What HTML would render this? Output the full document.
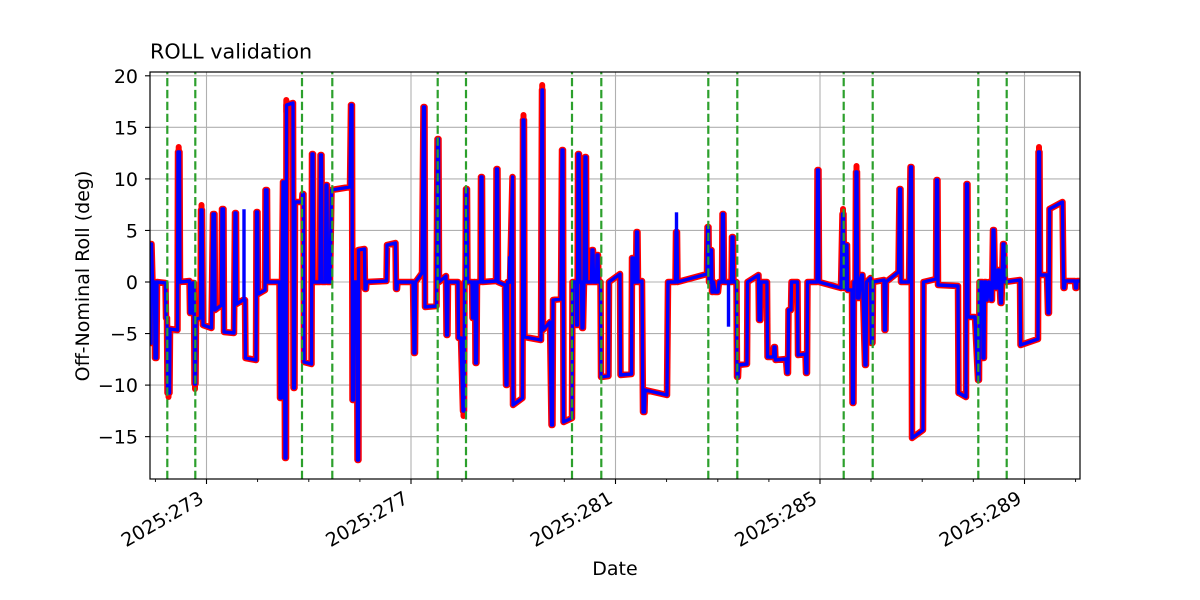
<!DOCTYPE html>
<html>
<head>
<meta charset="utf-8">
<style>
html,body{margin:0;padding:0;background:#fff;}
svg{display:block;}
text{font-family:"DejaVu Sans","Liberation Sans",sans-serif;fill:#000;}
</style>
</head>
<body>
<svg width="1200" height="600" viewBox="0 0 1200 600" xmlns="http://www.w3.org/2000/svg">
<rect x="0" y="0" width="1200" height="600" fill="#fff"/>
<defs>
<clipPath id="ax"><rect x="150" y="72" width="930" height="407"/></clipPath>
<path id="d" d="M151,343 L151.5,244 L152.5,282 L154.5,282 L155,358 L156.5,358 L157,282 L165.5,283 L166,318 L167,318 L167.5,393 L169.5,393 L170,329 L177.5,330 L178,152 L179.5,152 L180,282 L189.5,281 L190,313 L192,313 L192.5,283 L194,283 L194.5,384 L195.5,384 L196,319 L200.5,318 L201,210 L202,210 L203,325 L211.5,328 L213,214 L214.5,214 L215,310 L221.5,305 L222,209 L223.5,209 L224,332 L234,333 L235,213 L236,213 L236.5,304 L243,300 L245,300 L245.5,358 L256,360 L256.5,212 L257.5,212 L258,294 L265,290 L265.5,190 L267,190 L267.5,282 L279.5,282 L280,398 L281.5,398 L282,282 L283,182 L284,182 L285,458 L286,458 L286.5,105 L293,103 L293.5,388 L294.5,388 L295,202 L302,202 L302.5,194 L303.5,194 L304,362 L311.5,364 L312,154 L313,154 L313.5,282 L320,282 L320.5,155 L321.5,155 L322,282 L325.5,282 L326,185 L327,185 L327.5,282 L330,282 L331.5,190 L350,187 L351,105 L352,105 L352.5,400 L353.5,400 L354,282 L357,282 L357.5,460 L358.5,460 L358.5,250 L364.5,249 L365,289 L366,289 L366.5,282 L386.5,281 L387,245 L395.5,243 L396,289 L397,289 L397.5,282 L413,282 L414,353 L415,353 L415.5,282 L422,273 L423.5,107 L424.5,107 L425,307 L436.5,306 L437.5,139 L438.5,139 L439,282 L446,276 L446.5,335 L447.5,335 L448,282 L458,282 L458.5,338 L461,338 L463,411 L464,411 L464.5,282 L465.5,282 L466,189 L467,189 L467.5,282 L472,282 L472.5,318 L473.5,318 L474,282 L475,282 L475.5,363 L476.5,363 L477,282 L480.5,282 L481,177 L482,177 L482.5,282 L496,281 L496.5,169 L497.5,169 L498,282 L505,285 L506,385 L507,385 L507.5,282 L510,282 L512.5,177 L513,405 L522.5,398 L523,120 L524,120 L524.5,337 L541,340 L542,90 L542.5,90 L543,330 L550,322 L551.5,425 L552.5,425 L553,300 L561,299 L562,150 L563,150 L563.5,422 L572,418 L572.5,282 L576,282 L576.5,325 L577.5,325 L578,154 L579,154 L580,282 L581.5,282 L582,328 L583,328 L584,282 L585,157 L586,157 L586.5,282 L591.5,282 L592,250 L593,250 L593.5,282 L596.5,282 L597,255 L598,255 L598.5,282 L600.5,282 L601,377 L608.5,376 L609,282 L620,274 L620.5,375 L631.5,374 L632,258 L633,258 L633.5,282 L636,282 L636.5,232 L637.5,232 L638,282 L642,281 L643,412 L644.5,412 L645,390 L667,395 L668,282 L675.5,282 L676,232 L677,232 L677.5,282 L707,274 L707.5,227 L708.5,227 L709,282 L710,282 L711,250 L711.5,250 L712,292 L713,292 L713.5,282 L715,292 L718,292 L719,282 L722,282 L722.5,214 L723.5,214 L724,282 L731.5,282 L732,237 L733,237 L733.5,282 L736.5,282 L737,377 L738,377 L738.5,365 L747,364 L747.5,282 L758.5,275 L759,320 L760.5,320 L761,282 L767,282 L767.5,357 L773.5,357 L774,347 L775,347 L775.5,360 L786,359 L787,373 L788,373 L788.5,310 L791,310 L791.5,282 L797.5,282 L798,355 L805.5,354 L806,373 L807,373 L807.5,282 L817,282 L817.5,170 L818.5,170 L819,282 L841,288 L842.5,214 L843.5,214 L844,288 L845.5,288 L846,245 L847,245 L847.5,290 L852,290 L852.5,403 L853.5,403 L854,282 L855.5,282 L856,172 L857,172 L857.5,298 L859,298 L860,282 L861.5,275 L862.5,275 L865,365 L866,365 L866.5,282 L870.5,278 L871.5,343 L872.5,343 L873,282 L884,280 L884.5,330 L885.5,330 L886,282 L898.5,272 L899.5,189 L900.5,189 L901,282 L909,282 L910.5,167 L911.5,167 L912,438 L923,430 L923.5,282 L936,279 L936.5,180 L937.5,180 L938,285 L958,286 L958.5,393 L959,393 L966,397 L966.5,184 L967.5,184 L968,317 L975,317 L978,380 L979,380 L979.5,282 L982.5,282 L983,358 L984,358 L984.5,282 L986,282 L986.5,300 L987,300 L989,282 L991,300 L992,300 L993,230 L994,230 L995,288 L997,288 L998,270 L999,270 L1000.5,303 L1001.5,303 L1003,244 L1004,244 L1005,282 L1020,280 L1020.5,345 L1038,339 L1038.5,152 L1039.5,152 L1040,275 L1047,275 L1048,313 L1049,313 L1049.5,209 L1062.5,202 L1063.5,288 L1064.5,288 L1065,281 L1075,281 L1075.5,288 L1076.5,288 L1077,281 L1080,281"/>
</defs>

<!-- grid -->
<g stroke="#b0b0b0" stroke-width="1.1" fill="none">
<line x1="150" y1="75.8" x2="1080" y2="75.8"/>
<line x1="150" y1="127.35" x2="1080" y2="127.35"/>
<line x1="150" y1="178.9" x2="1080" y2="178.9"/>
<line x1="150" y1="230.45" x2="1080" y2="230.45"/>
<line x1="150" y1="282" x2="1080" y2="282"/>
<line x1="150" y1="333.55" x2="1080" y2="333.55"/>
<line x1="150" y1="385.1" x2="1080" y2="385.1"/>
<line x1="150" y1="436.65" x2="1080" y2="436.65"/>
<line x1="206.5" y1="72" x2="206.5" y2="479"/>
<line x1="411" y1="72" x2="411" y2="479"/>
<line x1="615.5" y1="72" x2="615.5" y2="479"/>
<line x1="820" y1="72" x2="820" y2="479"/>
<line x1="1024.5" y1="72" x2="1024.5" y2="479"/>
</g>

<g clip-path="url(#ax)" fill="none" stroke-linejoin="round" stroke-linecap="square">
<use href="#d" stroke="#ff0000" stroke-width="6.5"/>
<g stroke="#ff0000" stroke-width="6" stroke-linecap="round">
<path d="M178.7,162 L178.7,147"/>
<path d="M201.5,216 L201.5,205"/>
<path d="M286.3,112 L286.3,100"/>
<path d="M463.5,404 L463.5,416"/>
<path d="M523.5,126 L523.5,115"/>
<path d="M542.2,96 L542.2,85"/>
<path d="M195,378 L195,389"/>
<path d="M168.5,388 L168.5,397"/>
<path d="M843,220 L843,209"/>
<path d="M856.5,178 L856.5,166"/>
<path d="M1039,158 L1039,147"/>
<path d="M178.7,162 L178.7,150"/>
</g>
<use href="#d" stroke="#0000ff" stroke-width="3.4"/>
<g stroke="#0000ff" stroke-width="3.4">
<path d="M244,300 L244,211"/>
<path d="M509.5,282 L509.5,258"/>
<path d="M676.5,232 L676.5,214"/>
<path d="M728.5,282 L728.5,325"/>
</g>
</g>

<!-- green dashed lines -->
<g stroke="#2ca02c" stroke-width="2.2" stroke-dasharray="8.3 3.6" fill="none">
<line x1="167.3" y1="479" x2="167.3" y2="72"/>
<line x1="195.3" y1="479" x2="195.3" y2="72"/>
<line x1="302" y1="479" x2="302" y2="72"/>
<line x1="332.3" y1="479" x2="332.3" y2="72"/>
<line x1="437.7" y1="479" x2="437.7" y2="72"/>
<line x1="466" y1="479" x2="466" y2="72"/>
<line x1="572" y1="479" x2="572" y2="72"/>
<line x1="601.3" y1="479" x2="601.3" y2="72"/>
<line x1="708.3" y1="479" x2="708.3" y2="72"/>
<line x1="737.3" y1="479" x2="737.3" y2="72"/>
<line x1="843.7" y1="479" x2="843.7" y2="72"/>
<line x1="872.7" y1="479" x2="872.7" y2="72"/>
<line x1="978.3" y1="479" x2="978.3" y2="72"/>
<line x1="1006.7" y1="479" x2="1006.7" y2="72"/>
</g>

<!-- spines -->
<rect x="150" y="72" width="930" height="407" fill="none" stroke="#000" stroke-width="1.2"/>

<!-- ticks -->
<g stroke="#000" stroke-width="1.1">
<line x1="145" y1="75.8" x2="150" y2="75.8"/>
<line x1="145" y1="127.35" x2="150" y2="127.35"/>
<line x1="145" y1="178.9" x2="150" y2="178.9"/>
<line x1="145" y1="230.45" x2="150" y2="230.45"/>
<line x1="145" y1="282" x2="150" y2="282"/>
<line x1="145" y1="333.55" x2="150" y2="333.55"/>
<line x1="145" y1="385.1" x2="150" y2="385.1"/>
<line x1="145" y1="436.65" x2="150" y2="436.65"/>
<line x1="206.5" y1="479" x2="206.5" y2="484"/>
<line x1="411" y1="479" x2="411" y2="484"/>
<line x1="615.5" y1="479" x2="615.5" y2="484"/>
<line x1="820" y1="479" x2="820" y2="484"/>
<line x1="1024.5" y1="479" x2="1024.5" y2="484"/>
</g>
<g stroke="#000" stroke-width="0.9">
<line x1="155.4" y1="479" x2="155.4" y2="482"/>
<line x1="257.6" y1="479" x2="257.6" y2="482"/>
<line x1="308.8" y1="479" x2="308.8" y2="482"/>
<line x1="359.9" y1="479" x2="359.9" y2="482"/>
<line x1="462" y1="479" x2="462" y2="482"/>
<line x1="513.1" y1="479" x2="513.1" y2="482"/>
<line x1="564.3" y1="479" x2="564.3" y2="482"/>
<line x1="666.6" y1="479" x2="666.6" y2="482"/>
<line x1="717.8" y1="479" x2="717.8" y2="482"/>
<line x1="768.9" y1="479" x2="768.9" y2="482"/>
<line x1="871" y1="479" x2="871" y2="482"/>
<line x1="922.2" y1="479" x2="922.2" y2="482"/>
<line x1="973.3" y1="479" x2="973.3" y2="482"/>
<line x1="1075.6" y1="479" x2="1075.6" y2="482"/>
</g>

<!-- y tick labels -->
<g font-size="19" text-anchor="end">
<text x="138" y="82.8">20</text>
<text x="138" y="134.35">15</text>
<text x="138" y="185.9">10</text>
<text x="138" y="237.45">5</text>
<text x="138" y="289">0</text>
<text x="138" y="340.55">−5</text>
<text x="138" y="392.1">−10</text>
<text x="138" y="443.65">−15</text>
</g>

<!-- x tick labels -->
<g font-size="19" text-anchor="end">
<text transform="translate(205,502) rotate(-30)">2025:273</text>
<text transform="translate(409.5,502) rotate(-30)">2025:277</text>
<text transform="translate(614,502) rotate(-30)">2025:281</text>
<text transform="translate(818.5,502) rotate(-30)">2025:285</text>
<text transform="translate(1023,502) rotate(-30)">2025:289</text>
</g>

<text x="615" y="575" font-size="19" text-anchor="middle">Date</text>
<text transform="translate(89,276) rotate(-90)" font-size="19" text-anchor="middle">Off-Nominal Roll (deg)</text>
<text x="150" y="58.5" font-size="20.7">ROLL validation</text>
</svg>
</body>
</html>
